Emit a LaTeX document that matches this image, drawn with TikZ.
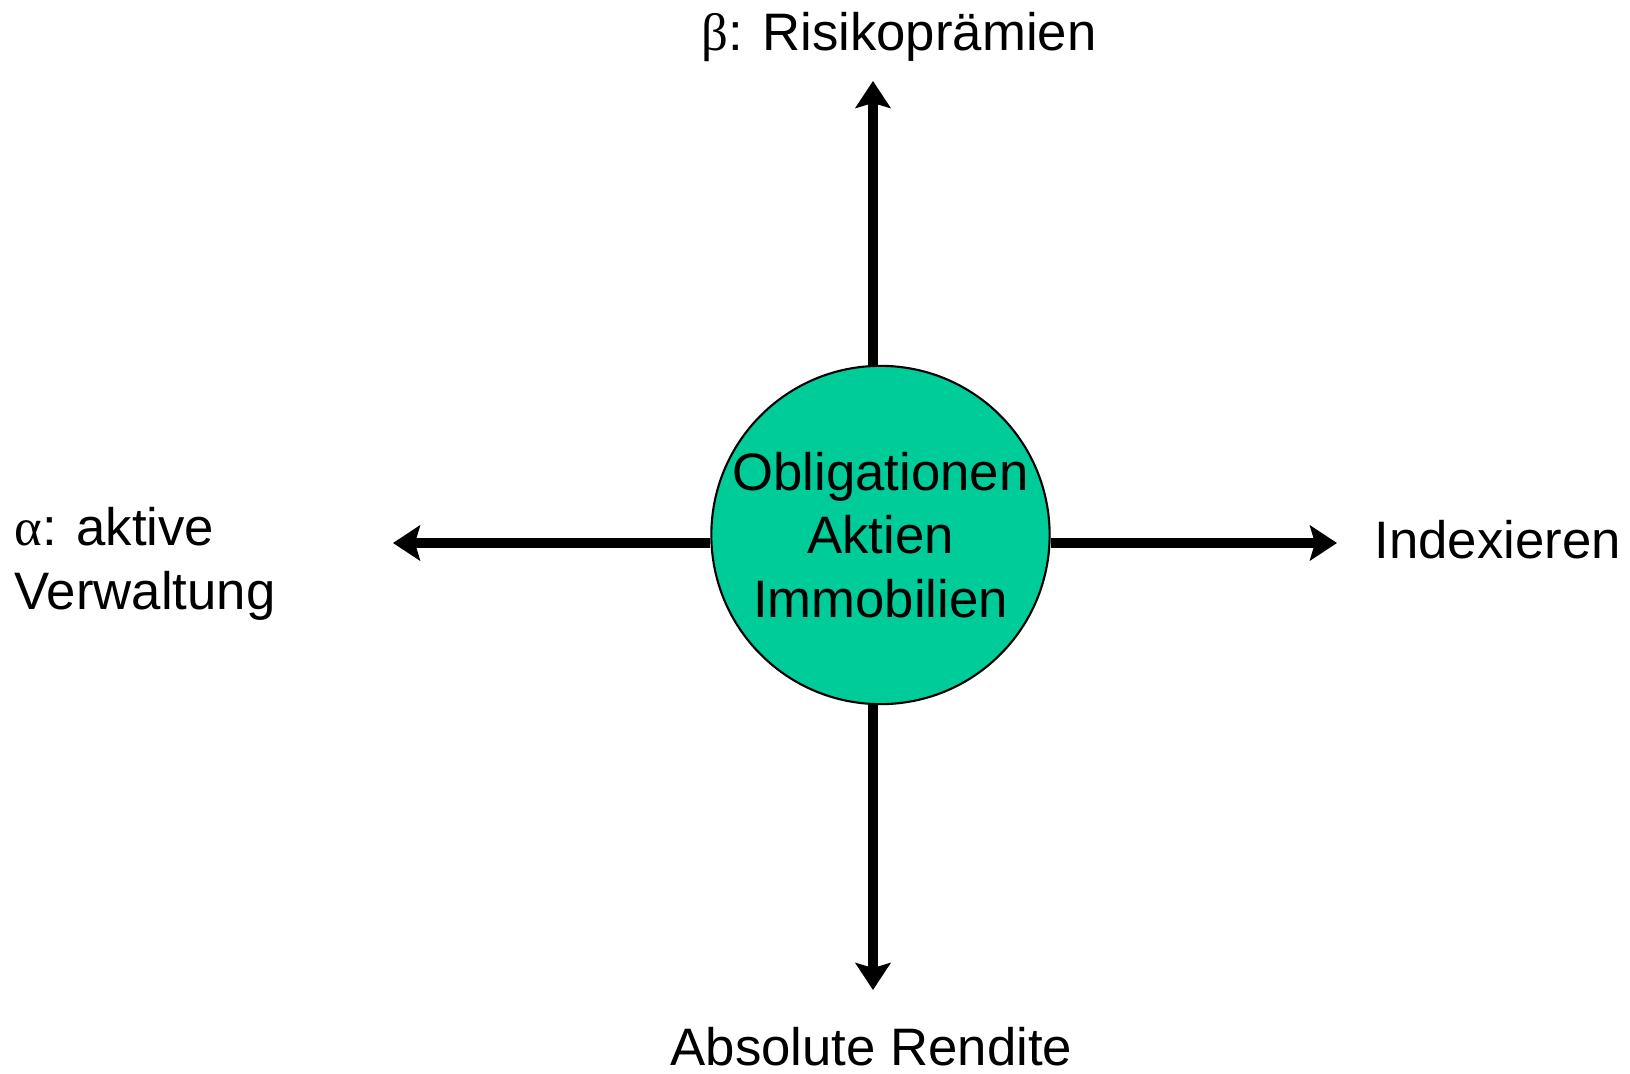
\documentclass[tikz,border=0pt]{standalone}
\usepackage{fontspec}
\setmainfont{Liberation Sans}
\newfontfamily\greekfont{Liberation Serif}
\usepackage{xcolor}
\usetikzlibrary{arrows.meta}
\definecolor{mint}{HTML}{00CC99}
\tikzset{
  axis/.style={draw=black, line width=2.6pt, -{Stealth[length=2.7mm, width=3.5mm, inset=0.5mm]}},
  hub/.style={circle, draw=black, line width=0.6pt, fill=mint, minimum size=3.36cm, inner sep=0pt, align=center, font=\fontsize{15}{18}\selectfont},
  lab/.style={font=\fontsize{15}{18}\selectfont, inner sep=0pt},
}
\begin{document}
\begin{tikzpicture}
  \useasboundingbox (-8.805,5.35) rectangle (7.495,-5.38);

  \node[hub] (C) at (0,0) {Obligationen\\Aktien\\Immobilien};

  % arrow tips
  \coordinate (Tn) at (-0.075,4.54);
  \coordinate (Ts) at (-0.075,-4.55);
  \coordinate (Tw) at (-4.875,-0.08);
  \coordinate (Te) at (4.565,-0.08);

  \draw[axis] (Tn |- C.north) -- (Tn);
  \draw[axis] (Ts |- C.south) -- (Ts);
  \draw[axis] (C.west |- Tw) -- (Tw);
  \draw[axis] (C.east |- Te) -- (Te);

  \node[lab, anchor=base] (beta) at (0.185,4.85) {{\greekfont β}: Risikoprämien};
  \node[lab, anchor=base west] (idx) at (4.935,-0.23) {Indexieren};
  \node[lab, anchor=base] (abs) at (-0.09,-5.30) {Absolute Rendite};
  \node[lab, anchor=base west, align=left] (alpha) at (-8.665,-0.74) {{\greekfont α}: aktive\\Verwaltung};
\end{tikzpicture}
\end{document}
